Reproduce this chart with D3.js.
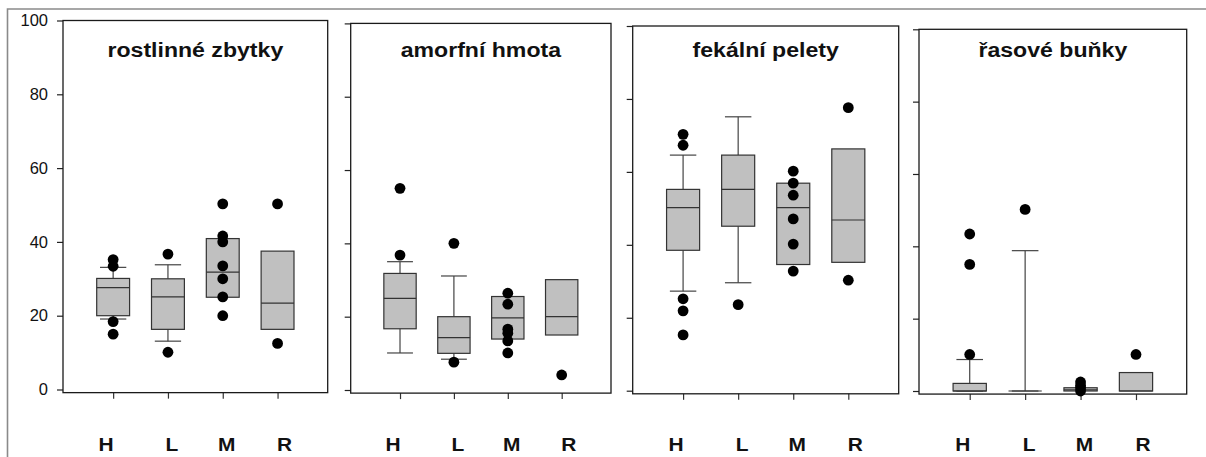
<!DOCTYPE html>
<html>
<head>
<meta charset="utf-8">
<script src="https://cdn.jsdelivr.net/npm/d3@7"></script>
<style>
  html, body { margin: 0; padding: 0; background: #fff; }
  svg { display: block; font-family: "Liberation Sans", Arial, sans-serif; }
</style>
</head>
<body>
<svg id="chart" width="1206" height="457"></svg>
<script>
// ---------- DATA ----------
const categories = ["H", "L", "M", "R"];
const panelTitles = ["rostlinné zbytky", "amorfní hmota", "fekální pelety", "řasové buňky"];
const yTicks = [0, 20, 40, 60, 80, 100];

// box stats per category: [whiskerLow, q1, median, q3, whiskerHigh] (null = no whisker)
const rostlinneBox = [[19.1, 20, 27.6, 30.1, 33.1], [13.1, 16.3, 25.1, 30.0, 33.8], [null, 25.0, 31.8, 40.9, null], [null, 16.3, 23.4, 37.5, null]];
const rostlinneOut = [[35.2, 33.4, 18.4, 15.0], [36.7, 10.1], [50.3, 41.6, 40.0, 33.5, 30.0, 25.1, 20.0], [50.3, 12.5]];

const amorfniBox = [[10.1, 16.7, 25.0, 31.8, 35.0], [8.4, 10.0, 14.3, 20.0, 31.1], [null, 13.9, 19.7, 25.5, null], [null, 15.0, 20.0, 30.1, null]];
const amorfniOut = [[55.0, 36.8], [40.0, 7.6], [26.4, 23.4, 16.6, 15.5, 13.4, 10.1], [4.1]];

const fekalniBox = [[27.3, 38.5, 50.2, 55.2, 64.6], [29.6, 45.1, 55.2, 64.6, 75.1], [null, 34.6, 50.2, 56.9, null], [null, 35.2, 46.8, 66.3, null]];
const fekalniOut = [[70.3, 67.3, 25.2, 21.9, 15.3], [23.6], [60.2, 56.9, 53.6, 47.1, 40.2, 32.8], [77.6, 30.3]];

const rasoveBox = [[0, 0, 0, 2.1, 8.7], [0, 0, 0, 0, 38.8], [null, 0, 0.3, 0.9, null], [null, 0, 0, 5.1, null]];
const rasoveOut = [[43.4, 35.0, 10.1], [50.2], [2.5, 1.5, 0.8, 0], [10.1]];

const panelBoxes = [rostlinneBox, amorfniBox, fekalniBox, rasoveBox];
const panelOutliers = [rostlinneOut, amorfniOut, fekalniOut, rasoveOut];

// ---------- LAYOUT (positions / styles) ----------
const frames = [
  { left: 63,    right: 327.7,  top: 20.5, zero: 389.5 },
  { left: 350.7, right: 611,    top: 23.4, zero: 390   },
  { left: 632.7, right: 898.7,  top: 26,   zero: 390.7 },
  { left: 919,   right: 1186.7, top: 29.3, zero: 391   }
];
const labelNudge = [-7, 4, 4, 7];
const textStretch = 1.1;

const svg = d3.select("#chart");

// outer border
svg.append("path")
  .attr("d", "M7.5,457 L7.5,9 L1206,9")
  .attr("fill", "none").attr("stroke", "#8a8a8a").attr("stroke-width", 1.6);

frames.forEach((f, pi) => {
  const g = svg.append("g");
  const y = d3.scaleLinear().domain([0, 100]).range([f.zero, f.top]);
  const bottom = y(-0.85);
  const x = d3.scalePoint().domain(categories).range([f.left, f.right]).padding(0.915);
  const step = x.step();
  const boxW = step * 0.6, capW = step * 0.48;

  // y axis ticks
  const yAxis = d3.axisLeft(y).tickValues(yTicks).tickSize(6).tickPadding(9)
    .tickFormat(pi === 0 ? d3.format("d") : "");
  const ya = g.append("g").attr("transform", `translate(${f.left},0)`).call(yAxis);
  ya.select(".domain").remove();
  ya.selectAll(".tick line").attr("stroke", "#222").attr("stroke-width", 1.2);
  ya.selectAll(".tick text").attr("fill", "#111").style("font-size", "16.5px")
    .style("font-family", "'Liberation Sans', Arial, sans-serif");

  // x axis ticks
  const xAxis = d3.axisBottom(x).tickSize(6).tickFormat("");
  const xa = g.append("g").attr("transform", `translate(0,${bottom})`).call(xAxis);
  xa.select(".domain").remove();
  xa.selectAll(".tick line").attr("stroke", "#333").attr("stroke-width", 1.2);

  // frame
  g.append("rect")
    .attr("x", f.left).attr("y", y(100))
    .attr("width", f.right - f.left).attr("height", bottom - y(100))
    .attr("fill", "none").attr("stroke", "#1a1a1a").attr("stroke-width", 1.3);

  // boxes
  const boxes = panelBoxes[pi];
  categories.forEach((c, ci) => {
    const [wl, q1, med, q3, wh] = boxes[ci];
    const cx = x(c);
    const bg = g.append("g");
    if (wh !== null) {
      bg.append("line").attr("x1", cx).attr("x2", cx).attr("y1", y(q3)).attr("y2", y(wh))
        .attr("stroke", "#444").attr("stroke-width", 1.2);
      bg.append("line").attr("x1", cx - capW / 2).attr("x2", cx + capW / 2).attr("y1", y(wh)).attr("y2", y(wh))
        .attr("stroke", "#444").attr("stroke-width", 1.2);
    }
    if (wl !== null) {
      bg.append("line").attr("x1", cx).attr("x2", cx).attr("y1", y(q1)).attr("y2", y(wl))
        .attr("stroke", "#444").attr("stroke-width", 1.2);
      bg.append("line").attr("x1", cx - capW / 2).attr("x2", cx + capW / 2).attr("y1", y(wl)).attr("y2", y(wl))
        .attr("stroke", "#444").attr("stroke-width", 1.2);
    }
    bg.append("rect")
      .attr("x", cx - boxW / 2).attr("y", y(q3))
      .attr("width", boxW).attr("height", Math.max(0, y(q1) - y(q3)))
      .attr("fill", "#c0c0c0").attr("stroke", "#333").attr("stroke-width", 1.2);
    bg.append("line").attr("x1", cx - boxW / 2).attr("x2", cx + boxW / 2).attr("y1", y(med)).attr("y2", y(med))
      .attr("stroke", "#333").attr("stroke-width", 1.2);
  });

  // outliers
  const outs = panelOutliers[pi];
  categories.forEach((c, ci) => {
    g.selectAll(null).data(outs[ci]).enter().append("circle")
      .attr("cx", x(c)).attr("cy", d => y(d)).attr("r", 5.4).attr("fill", "#000");
  });

  // title
  g.append("text")
    .attr("transform", `translate(${(f.left + f.right) / 2},56.5) scale(${textStretch},1)`)
    .attr("text-anchor", "middle").attr("font-weight", "bold").attr("font-size", 21)
    .attr("fill", "#111").text(panelTitles[pi]);

  // category labels
  categories.forEach((c, ci) => {
    g.append("text")
      .attr("transform", `translate(${x(c) + labelNudge[ci]},450.5) scale(${textStretch},1)`)
      .attr("text-anchor", "middle").attr("font-weight", "bold").attr("font-size", 19)
      .attr("fill", "#111").text(c);
  });
});
</script>
</body>
</html>
